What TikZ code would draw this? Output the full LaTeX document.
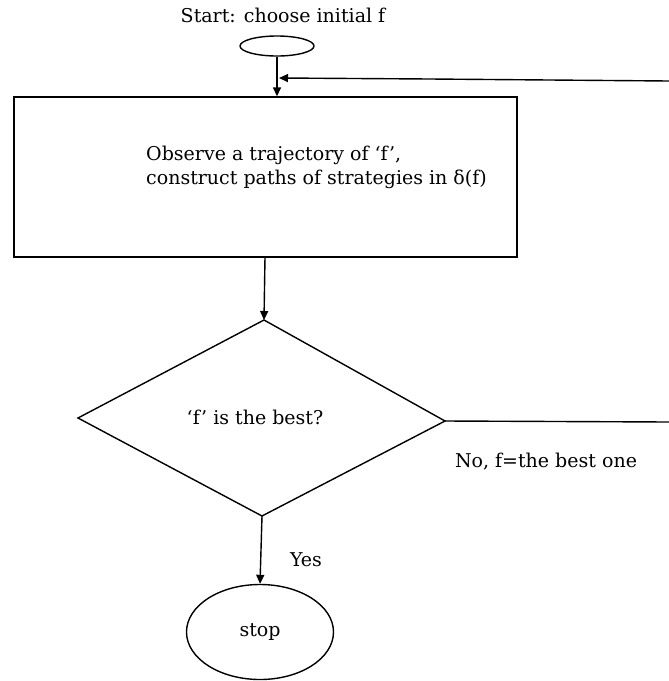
\documentclass[tikz,border=0pt]{standalone}
\usepackage{fontspec}
\setmainfont{DejaVu Serif}
\usetikzlibrary{shapes.geometric,arrows.meta}
\begin{document}
\begin{tikzpicture}[x=1pt,y=-1pt,
  line/.style={line width=1.4pt},
  arr/.style={line width=1.4pt,-{Triangle[length=9pt,width=8pt]}},
  lbl/.style={inner sep=0pt,font=\fontsize{19}{24}\selectfont},
  shp/.style={draw,line width=1.4pt,inner sep=0pt}]
\useasboundingbox (0,0) rectangle (669,681);
% nodes
\node[lbl] (title) at (283,15) {Start: choose initial f};
\node[shp,ellipse,minimum width=74pt,minimum height=20pt] (s) at (277,46) {};
\node[shp,rectangle,minimum width=503pt,minimum height=160pt] (obs) at (265.5,177) {};
\node[lbl,anchor=west,align=left] (obstext) at (146,167) {Observe a trajectory of ‘f’,\\construct paths of strategies in δ(f)};
\coordinate (dT) at (264,320);
\coordinate (dL) at (78,418);
\coordinate (dR) at (445,421);
\coordinate (dB) at (262,516);
\draw[line,line join=miter] (dT) -- (dR) -- (dB) -- (dL) -- cycle;
\node[lbl] (q) at (255,417) {‘f’ is the best?};
\node[shp,ellipse,minimum width=147pt,minimum height=95pt] (stop) at (260,632) {};
\node[lbl] (stoptext) at (260,632) {stop};
\node[lbl] (yes) at (306,560) {Yes};
\node[lbl] (no) at (546,462) {No, f=the best one};
\coordinate (edgeA) at (669,422);
\coordinate (edgeB) at (669,81);
\coordinate (fb) at (279,78);
% connectors
\draw[arr] (s.south) -- (s.south |- obs.north);
\draw[line] (dR) -- (edgeA);
\draw[arr] (edgeB) -- (430,79) -- (fb);
\draw[arr] (265,257) -- (dT);
\draw[arr] (dB) -- (stop.north);
\end{tikzpicture}
\end{document}
